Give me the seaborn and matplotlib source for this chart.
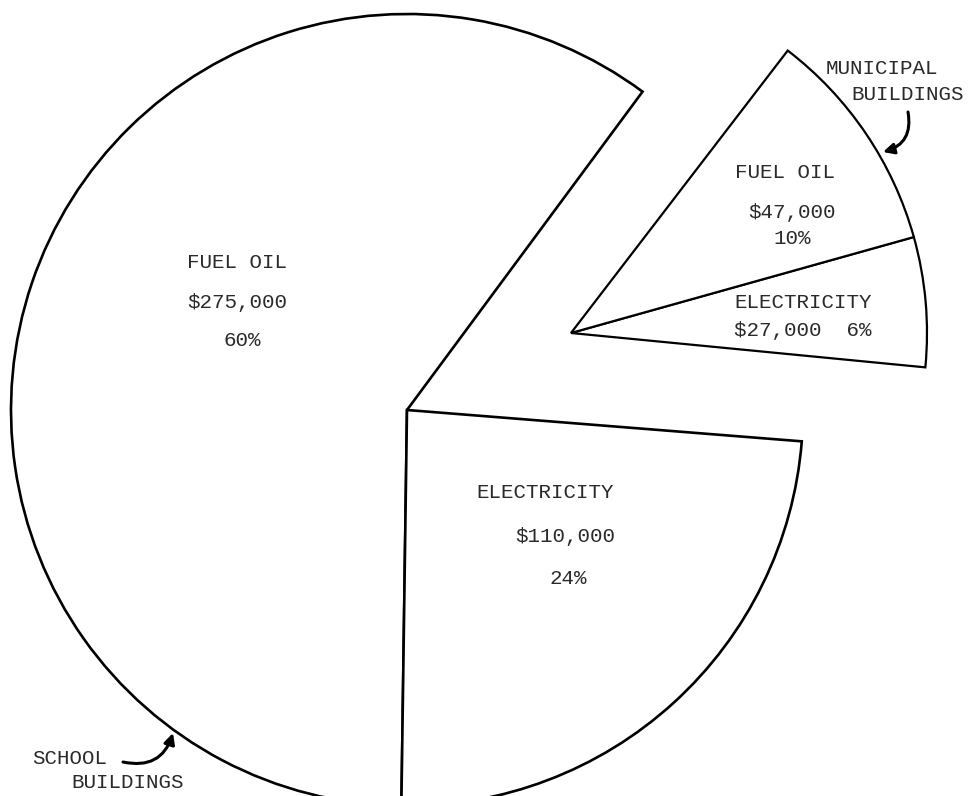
import matplotlib
matplotlib.use("Agg")
import matplotlib.pyplot as plt
import seaborn as sns

# Annual energy cost, in dollars, split by building group and fuel
groups = ["SCHOOL", "SCHOOL", "MUNICIPAL", "MUNICIPAL"]
uses = ["FUEL OIL", "ELECTRICITY", "ELECTRICITY", "FUEL OIL"]
costs = [275000, 110000, 27000, 47000]
cost_labels = ["$275,000", "$110,000", "$27,000", "$47,000"]
pct_labels = ["60%", "24%", "6%", "10%"]

sns.set_theme(style="white")
plt.rcParams["font.family"] = ["Liberation Mono", "DejaVu Sans Mono"]

W, H = 968, 796
fig = plt.figure(figsize=(W / 100, H / 100), dpi=100)
ax = fig.add_axes([0, 0, 1, 1])

edge = dict(facecolor="white", edgecolor="black", linewidth=1.9)

# Main pie: school buildings (municipal slices hidden here)
school_wedges, _ = ax.pie(costs, startangle=53.5, counterclock=True,
                          radius=396, center=(407, 386),
                          wedgeprops=edge, frame=True)
# Pulled-out piece: municipal buildings
muni_wedges, _ = ax.pie(costs, startangle=52.5, counterclock=True,
                        radius=356, center=(571, 463),
                        wedgeprops=dict(edge, linewidth=1.6), frame=True)
for i, g in enumerate(groups):
    if g == "SCHOOL":
        muni_wedges[i].set_visible(False)
    else:
        school_wedges[i].set_visible(False)

ax.set_xlim(0, W)
ax.set_ylim(0, H)
ax.set_aspect("equal")
ax.axis("off")

txt = dict(ha="center", va="center", color="#2a2a2a", fontsize=15)

def y(p):
    return H - p

# School fuel oil
ax.text(237, y(263), uses[0], **txt)
ax.text(237, y(302), cost_labels[0], **txt)
ax.text(242, y(341), pct_labels[0], **txt)
# School electricity
ax.text(545, y(493), uses[1], **txt)
ax.text(565, y(537), cost_labels[1], **txt)
ax.text(568, y(578), pct_labels[1], **txt)
# Municipal fuel oil
ax.text(785, y(173), uses[3], **txt)
ax.text(792, y(213), cost_labels[3], **txt)
ax.text(792, y(238), pct_labels[3], **txt)
# Municipal electricity
ax.text(803, y(303), uses[2], **txt)
ax.text(803, y(330), cost_labels[2] + "  " + pct_labels[2], **txt)

# Group captions with curved pointers
ax.text(70, y(758), "SCHOOL", **txt)
ax.text(128, y(783), "BUILDINGS", **txt)
ax.text(882, y(68), "MUNICIPAL", **txt)
ax.text(908, y(95), "BUILDINGS", **txt)

arrow = dict(arrowstyle="-|>", color="black", lw=2.2, mutation_scale=16,
             shrinkA=0, shrinkB=0)
ax.annotate("", xy=(173, y(733)), xytext=(123, y(762)),
            arrowprops=dict(arrow, connectionstyle="arc3,rad=0.45"))
ax.annotate("", xy=(883, y(152)), xytext=(908, y(112)),
            arrowprops=dict(arrow, connectionstyle="arc3,rad=-0.45"))

fig.savefig("out.png", dpi=100, facecolor="white")
